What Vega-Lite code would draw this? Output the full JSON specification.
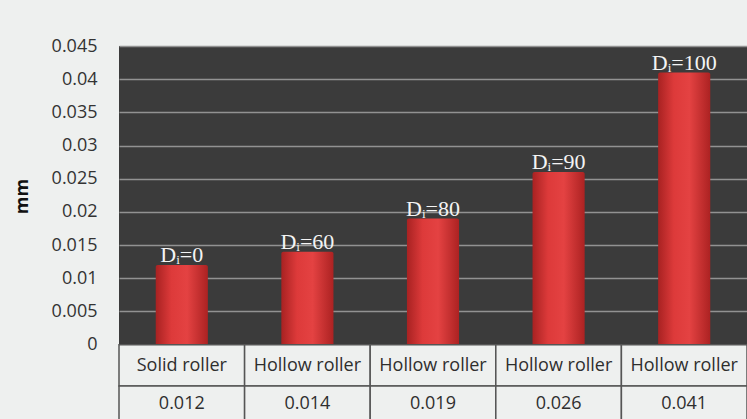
{
  "$schema": "https://vega.github.io/schema/vega-lite/v6.json",
  "autosize": "none",
  "width": 628,
  "height": 377,
  "padding": {"left": 119, "top": 46, "right": 0, "bottom": 0},
  "background": "#eef0ef",
  "view": {"fill": "#3b3b3b", "stroke": null},
  "data": {
    "values": [
      {"case": "Dᵢ=0", "roller": "Solid roller", "disp": 0.012, "shown": "0.012"},
      {"case": "Dᵢ=60", "roller": "Hollow roller", "disp": 0.014, "shown": "0.014"},
      {"case": "Dᵢ=80", "roller": "Hollow roller", "disp": 0.019, "shown": "0.019"},
      {"case": "Dᵢ=90", "roller": "Hollow roller", "disp": 0.026, "shown": "0.026"},
      {"case": "Dᵢ=100", "roller": "Hollow roller", "disp": 0.041, "shown": "0.041"}
    ]
  },
  "encoding": {
    "x": {
      "field": "case",
      "type": "nominal",
      "sort": null,
      "axis": null,
      "scale": {"paddingInner": 0, "paddingOuter": 0}
    }
  },
  "layer": [
    {
      "mark": {
        "type": "bar",
        "width": {"band": 0.415},
        "cornerRadiusTopLeft": 2,
        "cornerRadiusTopRight": 2,
        "color": {
          "gradient": "linear",
          "x1": 0, "x2": 1, "y1": 0, "y2": 0,
          "stops": [
            {"offset": 0, "color": "#a82222"},
            {"offset": 0.3, "color": "#dd3a3a"},
            {"offset": 0.6, "color": "#e44242"},
            {"offset": 1, "color": "#ac2222"}
          ]
        }
      },
      "encoding": {
        "y": {
          "field": "disp",
          "type": "quantitative",
          "scale": {"domain": [-0.0118, 0.045], "nice": false, "zero": false},
          "axis": {
            "values": [0, 0.005, 0.01, 0.015, 0.02, 0.025, 0.03, 0.035, 0.04, 0.045],
            "format": "~g",
            "title": "mm",
            "titleFont": "Open Sans",
            "titleFontSize": 18,
            "titleFontWeight": "bold",
            "titleColor": "#111111",
            "titlePadding": 20,
            "titleY": 150,
            "labelFont": "Open Sans",
            "labelFontSize": 18,
            "labelColor": "#333333",
            "labelPadding": 22,
            "ticks": false,
            "domain": false,
            "grid": true,
            "gridColor": "#929292",
            "gridWidth": 1.5
          }
        },
        "y2": {"datum": 0}
      }
    },
    {
      "mark": {
        "type": "text",
        "font": "Liberation Serif",
        "fontSize": 22,
        "color": "#f4f4f4",
        "baseline": "alphabetic",
        "dy": -3
      },
      "encoding": {
        "y": {"field": "disp", "type": "quantitative"},
        "text": {"field": "case"}
      }
    },
    {
      "mark": {"type": "rect", "fill": "#eef0ef", "stroke": "#555555", "strokeWidth": 1.5},
      "encoding": {
        "y": {"datum": 0},
        "y2": {"datum": -0.00622}
      }
    },
    {
      "mark": {"type": "rect", "fill": "#eef0ef", "stroke": "#555555", "strokeWidth": 1.5},
      "encoding": {
        "y": {"datum": -0.00622},
        "y2": {"datum": -0.0118}
      }
    },
    {
      "mark": {
        "type": "text",
        "font": "Open Sans",
        "fontSize": 18,
        "color": "#2e2e2e",
        "baseline": "middle"
      },
      "encoding": {
        "y": {"datum": -0.0032},
        "text": {"field": "roller"}
      }
    },
    {
      "mark": {
        "type": "text",
        "font": "Open Sans",
        "fontSize": 18,
        "color": "#2e2e2e",
        "baseline": "middle"
      },
      "encoding": {
        "y": {"datum": -0.009},
        "text": {"field": "shown"}
      }
    }
  ]
}
